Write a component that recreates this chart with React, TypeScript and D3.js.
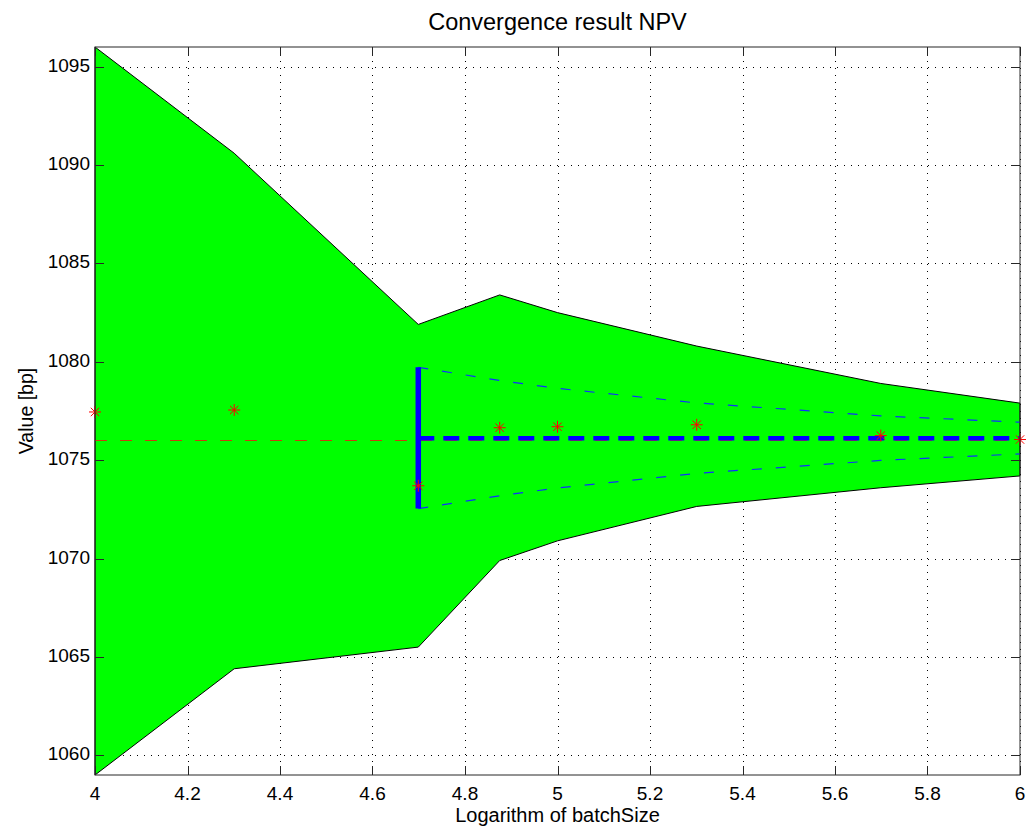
import { useEffect, useRef } from 'react'
import * as d3 from 'd3'

// log10 of batch size
const logBatch = [4, 4.301, 4.699, 4.875, 5, 5.301, 5.699, 6]
const upperBound = [1096, 1090.6, 1081.9, 1083.4, 1082.5, 1080.8, 1078.9, 1077.9]
const lowerBound = [1059, 1064.4, 1065.5, 1069.9, 1070.9, 1072.65, 1073.6, 1074.2]
const estimates = [1077.45, 1077.55, 1073.7, 1076.65, 1076.7, 1076.8, 1076.25, 1076.05]

const refValue = 1076.0
const finalValue = 1076.12

// confidence cone from the first converged point
const coneX = [4.699, 4.875, 5, 5.301, 5.699, 6]
const coneUpper = [1079.72, 1079.05, 1078.65, 1077.91, 1077.25, 1076.93]
const coneLower = [1072.54, 1073.19, 1073.59, 1074.33, 1074.99, 1075.32]

const xTicks = [4, 4.2, 4.4, 4.6, 4.8, 5, 5.2, 5.4, 5.6, 5.8, 6]
const yTicks = [1060, 1065, 1070, 1075, 1080, 1085, 1090, 1095]

const W = 1027, H = 829
const margin = { top: 47, right: 7, bottom: 54, left: 95 }
const font = '"Liberation Sans", Arial, sans-serif'

export default function App() {
  const ref = useRef<SVGSVGElement>(null)

  useEffect(() => {
    const svg = d3.select(ref.current)
    svg.selectAll('*').remove()
    const pw = W - margin.left - margin.right
    const ph = H - margin.top - margin.bottom

    const x = d3.scaleLinear().domain([4, 6]).range([0, pw])
    const y = d3.scaleLinear().domain([1059, 1096]).range([ph, 0])

    svg.append('rect').attr('width', W).attr('height', H).attr('fill', '#fff')

    svg.append('text')
      .attr('x', margin.left + pw / 2).attr('y', 30)
      .attr('text-anchor', 'middle')
      .style('font-family', font).style('font-size', '23.5px')
      .text('Convergence result NPV')

    const g = svg.append('g').attr('transform', `translate(${margin.left},${margin.top})`)

    // grid
    const grid = g.append('g').attr('stroke', '#000').attr('stroke-width', 1).attr('stroke-dasharray', '1,6')
    grid.selectAll('.gx').data(xTicks).join('line')
      .attr('x1', d => Math.round(x(d)) + 0.5).attr('x2', d => Math.round(x(d)) + 0.5)
      .attr('y1', 0).attr('y2', ph)
    grid.selectAll('.gy').data(yTicks).join('line')
      .attr('y1', d => Math.round(y(d)) + 0.5).attr('y2', d => Math.round(y(d)) + 0.5)
      .attr('x1', 0).attr('x2', pw)

    // band
    const band = logBatch.map((v, i) => ({ x: v, hi: upperBound[i], lo: lowerBound[i] }))
    const area = d3.area<{ x: number, hi: number, lo: number }>()
      .x(d => x(d.x)).y0(d => y(d.lo)).y1(d => y(d.hi))
    g.append('path').datum(band).attr('d', area)
      .attr('fill', '#00ff00').attr('stroke', '#000').attr('stroke-width', 1)

    // reference line
    g.append('line')
      .attr('x1', x(4)).attr('x2', x(6))
      .attr('y1', y(refValue)).attr('y2', y(refValue))
      .attr('stroke', '#c83c10').attr('stroke-width', 1.2).attr('stroke-dasharray', '12,13')

    // cone
    const line = d3.line<[number, number]>().x(d => x(d[0])).y(d => y(d[1]))
    ;[coneUpper, coneLower].forEach(c => {
      g.append('path').datum(coneX.map((v, i) => [v, c[i]] as [number, number]))
        .attr('d', line).attr('fill', 'none')
        .attr('stroke', '#1030ff').attr('stroke-width', 1.2).attr('stroke-dasharray', '10,14')
    })

    g.append('line')
      .attr('x1', x(coneX[0])).attr('x2', x(6))
      .attr('y1', y(finalValue)).attr('y2', y(finalValue))
      .attr('stroke', '#0000ff').attr('stroke-width', 4.5).attr('stroke-dasharray', '16,9')

    g.append('line')
      .attr('x1', x(coneX[0])).attr('x2', x(coneX[0]))
      .attr('y1', y(coneUpper[0])).attr('y2', y(coneLower[0]))
      .attr('stroke', '#0000ff').attr('stroke-width', 5.5)

    // estimates as stars
    const r = 6
    const stars = g.append('g').attr('stroke', '#ff0000').attr('stroke-width', 1)
    logBatch.forEach((v, i) => {
      const cx = x(v), cy = y(estimates[i])
      const s = stars.append('g').attr('transform', `translate(${cx},${cy})`)
      s.append('line').attr('x1', -r).attr('x2', r)
      s.append('line').attr('y1', -r).attr('y2', r)
      s.append('line').attr('x1', -r * 0.7).attr('y1', -r * 0.7).attr('x2', r * 0.7).attr('y2', r * 0.7)
      s.append('line').attr('x1', -r * 0.7).attr('y1', r * 0.7).attr('x2', r * 0.7).attr('y2', -r * 0.7)
    })

    // box and ticks
    g.append('rect').attr('x', 0).attr('y', 0).attr('width', pw).attr('height', ph)
      .attr('fill', 'none').attr('stroke', '#262626').attr('stroke-width', 1)
    const tl = 9
    const ticks = g.append('g').attr('stroke', '#262626').attr('stroke-width', 1)
    xTicks.forEach(t => {
      const px = Math.round(x(t)) + 0.5
      ticks.append('line').attr('x1', px).attr('x2', px).attr('y1', ph).attr('y2', ph - tl)
      ticks.append('line').attr('x1', px).attr('x2', px).attr('y1', 0).attr('y2', tl)
    })
    yTicks.forEach(t => {
      const py = Math.round(y(t)) + 0.5
      ticks.append('line').attr('y1', py).attr('y2', py).attr('x1', 0).attr('x2', tl)
      ticks.append('line').attr('y1', py).attr('y2', py).attr('x1', pw).attr('x2', pw - tl)
    })

    g.selectAll('.xl').data(xTicks).join('text')
      .attr('x', d => x(d)).attr('y', ph + 25)
      .attr('text-anchor', 'middle')
      .style('font-family', font).style('font-size', '19px').attr('fill', '#000')
      .text(d => String(d))
    g.selectAll('.yl').data(yTicks).join('text')
      .attr('x', -5).attr('y', d => y(d) + 5)
      .attr('text-anchor', 'end')
      .style('font-family', font).style('font-size', '19px').attr('fill', '#000')
      .text(d => String(d))

    g.append('text')
      .attr('x', pw / 2).attr('y', ph + 47)
      .attr('text-anchor', 'middle')
      .style('font-family', font).style('font-size', '20px')
      .text('Logarithm of batchSize')
    g.append('text')
      .attr('transform', `translate(-62,${ph / 2}) rotate(-90)`)
      .attr('text-anchor', 'middle')
      .style('font-family', font).style('font-size', '19.5px')
      .text('Value [bp]')
  }, [])

  return <svg ref={ref} width={W} height={H} style={{ position: 'absolute', left: 0, top: 0, display: 'block' }} />
}
